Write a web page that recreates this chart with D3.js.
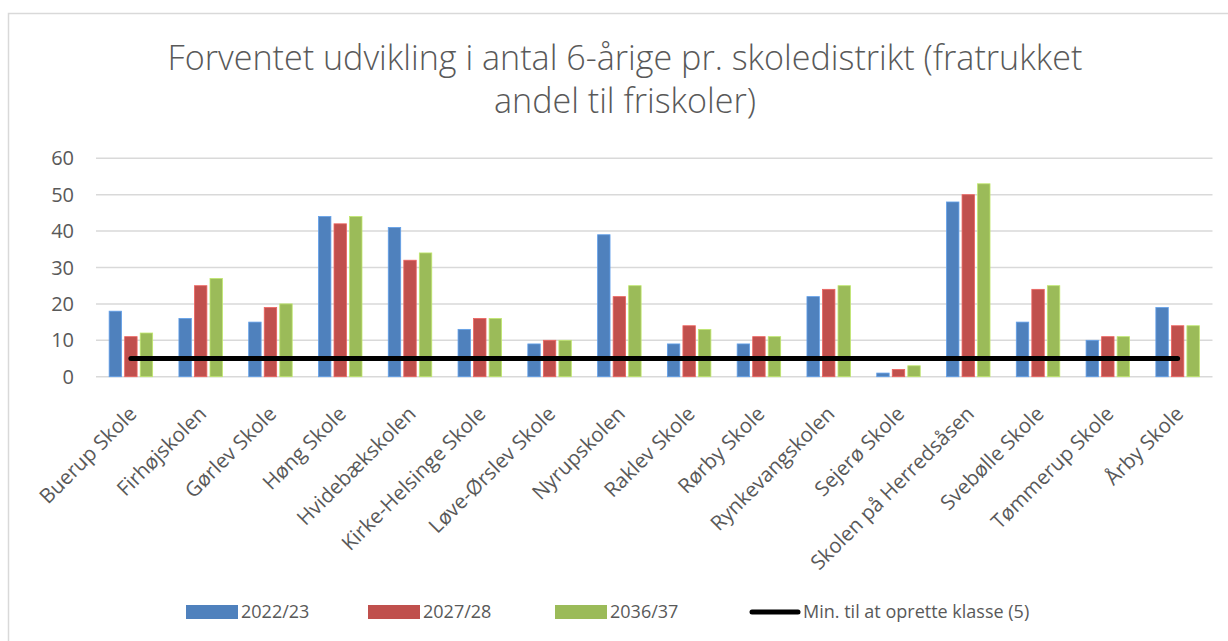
<!DOCTYPE html>
<html>
<head>
<meta charset="utf-8">
<script src="https://cdn.jsdelivr.net/npm/d3@7"></script>
<style>
  body { margin: 0; background: #fff; }
  text { font-family: "Open Sans", "Noto Sans", sans-serif; fill: #595959; }
</style>
</head>
<body>
<div id="chart"></div>
<script>
let schools = ["Buerup Skole", "Firhøjskolen", "Gørlev Skole", "Høng Skole", "Hvidebækskolen",
    "Kirke-Helsinge Skole", "Løve-Ørslev Skole", "Nyrupskolen", "Raklev Skole", "Rørby Skole",
    "Rynkevangskolen", "Sejerø Skole", "Skolen på Herredsåsen", "Svebølle Skole", "Tømmerup Skole", "Årby Skole"];
let seriesNames = ["2022/23", "2027/28", "2036/37"];
let values2022 = [18, 16, 15, 44, 41, 13, 9, 39, 9, 9, 22, 1, 48, 15, 10, 19];
let values2027 = [11, 25, 19, 42, 32, 16, 10, 22, 14, 11, 24, 2, 50, 24, 11, 14];
let values2036 = [12, 27, 20, 44, 34, 16, 10, 25, 13, 11, 25, 3, 53, 25, 11, 14];
let minClass = 5;
let minLabel = "Min. til at oprette klasse (5)";
let yTicks = [0, 10, 20, 30, 40, 50, 60];
let titleLines = ["Forventet udvikling i antal 6-årige pr. skoledistrikt (fratrukket", "andel til friskoler)"];

let colors = ["#4F81BD", "#C0504D", "#9BBB59"];
let width = 1228, height = 641;

let svg = d3.select("#chart").append("svg")
    .attr("width", width)
    .attr("height", height);

// chart frame
svg.append("rect")
    .attr("x", 8.5).attr("y", 13.5)
    .attr("width", 1400).attr("height", 800)
    .attr("fill", "none").attr("stroke", "#D9D9D9").attr("stroke-width", 1.5);

// title, sized to the width of the original
let titleSize = 30;
let title = svg.append("g");
titleLines.forEach(function (t, i) {
    title.append("text")
        .attr("x", 625)
        .attr("y", 70 + i * 43)
        .attr("text-anchor", "middle")
        .style("font-size", titleSize + "px")
        .style("font-weight", 300)
        .text(t);
});
let w0 = title.select("text").node().getComputedTextLength();
titleSize = titleSize * 915 / w0;
title.selectAll("text").style("font-size", titleSize + "px");

let y = d3.scaleLinear().domain([0, 60]).range([376.7, 158.3]);
let x0 = d3.scaleBand().domain(schools).range([96, 1212.5]);
let groupW = 43.5;
let x1 = d3.scaleBand().domain(seriesNames).range([0, groupW]).paddingInner(0.2);

// grid
svg.append("g").selectAll("line")
    .data(yTicks)
    .join("line")
    .attr("x1", 96).attr("x2", 1212.5)
    .attr("y1", d => y(d)).attr("y2", d => y(d))
    .attr("stroke", "#D9D9D9").attr("stroke-width", 1.5);

svg.append("g").selectAll("text")
    .data(yTicks)
    .join("text")
    .attr("x", 74)
    .attr("y", d => y(d))
    .attr("dy", "0.35em")
    .attr("text-anchor", "end")
    .style("font-size", "20px")
    .text(d => d);

// bars
let seriesData = [values2022, values2027, values2036];
seriesData.forEach(function (vals, si) {
    svg.append("g").selectAll("rect")
        .data(vals)
        .join("rect")
        .attr("x", (d, i) => x0(schools[i]) + (x0.bandwidth() - groupW) / 2 + x1(seriesNames[si]))
        .attr("y", d => y(d))
        .attr("width", x1.bandwidth())
        .attr("height", d => y(0) - y(d))
        .attr("fill", colors[si])
        .attr("stroke", d3.color(colors[si]).brighter(0.6))
        .attr("stroke-width", 0.8);
});

// min line
let lineFn = d3.line().x(d => x0(d) + x0.bandwidth() / 2).y(() => y(minClass));
svg.append("path")
    .attr("d", lineFn(schools))
    .attr("fill", "none")
    .attr("stroke", "#000")
    .attr("stroke-width", 5)
    .attr("stroke-linecap", "round");

// x labels
svg.append("g").selectAll("text")
    .data(schools)
    .join("text")
    .attr("transform", d => "translate(" + (x0(d) + x0.bandwidth() / 2 + 2) + ",410) rotate(-45)")
    .attr("text-anchor", "end")
    .attr("dy", "0.35em")
    .style("font-size", "20.5px")
    .text(d => d);

// legend
let legendX = [186, 368, 555, 750];
let legend = svg.append("g");
seriesNames.forEach(function (s, i) {
    legend.append("rect")
        .attr("x", legendX[i]).attr("y", 605)
        .attr("width", 52).attr("height", 14)
        .attr("fill", colors[i]);
    legend.append("text")
        .attr("x", legendX[i] + 55).attr("y", 612)
        .attr("dy", "0.35em")
        .style("font-size", "18px")
        .text(s);
});
legend.append("line")
    .attr("x1", legendX[3] + 2).attr("x2", legendX[3] + 48)
    .attr("y1", 612).attr("y2", 612)
    .attr("stroke", "#000").attr("stroke-width", 5).attr("stroke-linecap", "round");
legend.append("text")
    .attr("x", legendX[3] + 53).attr("y", 612)
    .attr("dy", "0.35em")
    .style("font-size", "18px")
    .text(minLabel);
</script>
</body>
</html>
